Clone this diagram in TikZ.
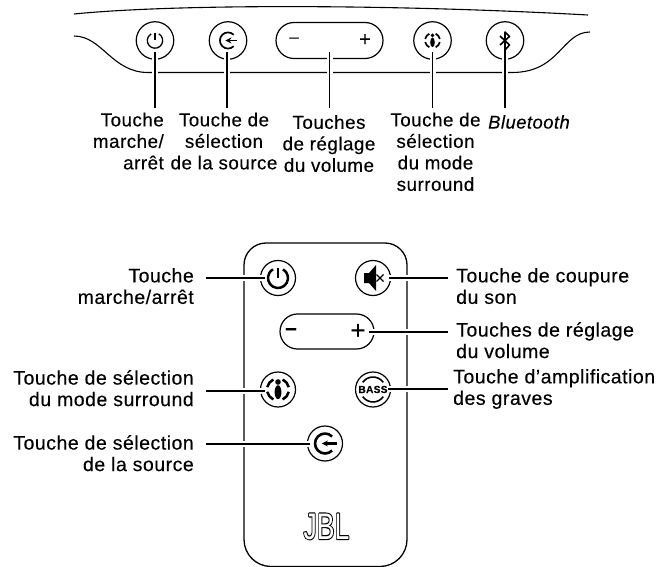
\documentclass[tikz,border=0pt]{standalone}
\usepackage{fontspec}
\setmainfont[FakeBold=0.25,LetterSpace=2.6]{Liberation Sans}
\newfontfamily\plainfont{Liberation Sans}
\usetikzlibrary{arrows.meta,calc}
\tikzset{
  lbl/.style={inner sep=0pt,font=\fontsize{19.5}{21.5}\selectfont},
  lbltop/.style={inner sep=0pt,font=\fontsize{18.8}{21.5}\selectfont},
  btn/.style={circle,draw,fill=white,inner sep=0pt,line width=1.2pt,minimum size=#1},
  pill/.style={draw,fill=white,inner sep=0pt,line width=1.2pt,rounded corners=17.5pt,minimum width=#1,minimum height=35pt},
  leader/.style={line width=#1,preaction={draw=white,line width=6pt}},
  pics/pwricon/.style={code={
    \draw[pic actions] (0,10) -- (0,0);
    \draw[pic actions] (60:10) arc (60:-240:10);
  }},
  pics/srcicon/.style={code={
    \draw[pic actions] (45:9.5) arc (45:315:9.5);
    \draw[pic actions,-{Stealth[length=6pt,width=6pt]}] (11,0) -- (-3,0);
  }},
  pics/surricon/.style={code={
    \fill (0,7.5) circle (2.8);
    \fill (0,-2.7) ellipse (3.4 and 7);
    \draw[pic actions] (115:11) arc (115:168:11);
    \draw[pic actions] (192:11) arc (192:245:11);
    \draw[pic actions] (65:11) arc (65:12:11);
    \draw[pic actions] (-12:11) arc (-12:-65:11);
  }},
}
\begin{document}
\begin{tikzpicture}[x=1pt,y=1pt,line cap=butt,line join=round]
\useasboundingbox (0,0) rectangle (672,-567);
\draw[line width=1.1pt] (74,-14) .. controls (180,-3.5) and (400,-4.5) .. (588,-15);
\draw[line width=1.1pt] (74,-36) .. controls (102,-36) and (112,-72.5) .. (148,-72.5) -- (512,-72.5) .. controls (560,-72.5) and (562,-32) .. (590,-32);
\draw[line width=1.3pt,rounded corners=22pt] (244,-400) -- (244,-243) -- (407,-243) -- (407,-400) [rounded corners=27pt] -- (407,-566.5) -- (244,-566.5) -- cycle;
\node[btn=37.5pt] (pwrT) at (155,-40.5) {};
\node[btn=37.5pt] (srcT) at (228,-40.5) {};
\node[pill=107pt,minimum height=36pt,rounded corners=18pt] (volT) at (329.5,-40.5) {};
\node[btn=37.5pt] (surT) at (432.5,-40.5) {};
\node[btn=37.5pt] (btT) at (505,-40.5) {};
\node[btn=35pt] (pwrR) at (278,-278) {};
\node[btn=35pt] (muteR) at (373,-278) {};
\node[pill=94pt] (volR) at (327,-331.5) {};
\node[btn=35pt] (surR) at (278,-389.5) {};
\node[btn=35pt,font=\fontsize{10.2}{10}\selectfont\bfseries] (bassR) at (373,-389.5) {BASS};
\node[btn=35pt] (srcR) at (325,-443.5) {};
\coordinate (pwrTa) at (155,-52);
\coordinate (pwrTb) at (155,-108);
\coordinate (srcTa) at (227,-52);
\coordinate (srcTb) at (227,-108);
\coordinate (volTa) at (329.5,-52);
\coordinate (volTb) at (329.5,-108);
\coordinate (surTa) at (432.5,-52);
\coordinate (surTb) at (432.5,-108);
\coordinate (btTa) at (505,-50);
\coordinate (btTb) at (505,-108);
\coordinate (pwrRa) at (265,-278);
\coordinate (pwrRb) at (206,-278);
\coordinate (muteRa) at (389,-278);
\coordinate (muteRb) at (448,-278);
\coordinate (volRa) at (369,-332);
\coordinate (volRb) at (448,-332);
\coordinate (surRa) at (265,-390.5);
\coordinate (surRb) at (206,-390.5);
\coordinate (bassRa) at (388,-388.5);
\coordinate (bassRb) at (448,-388.5);
\coordinate (srcRa) at (310,-444);
\coordinate (srcRb) at (206,-444);
\draw[leader=1.6pt] (pwrTa) -- (pwrTb);
\draw[leader=1.6pt] (srcTa) -- (srcTb);
\draw[leader=1.6pt] (volTa) -- (volTb);
\draw[leader=1.6pt] (surTa) -- (surTb);
\draw[leader=1.6pt] (btTa) -- (btTb);
\draw[leader=2pt] (pwrRa) -- (pwrRb);
\draw[leader=2pt] (muteRa) -- (muteRb);
\draw[leader=2pt] (volRa) -- (volRb);
\draw[leader=2pt] (surRa) -- (surRb);
\draw[leader=2pt] (bassRa) -- (bassRb);
\draw[leader=2pt] (srcRa) -- (srcRb);
\pic[scale=0.77,line width=1.3pt] at (pwrT) {pwricon};
\pic[scale=0.85,line width=1.7pt] at (srcT) {srcicon};
\pic[scale=0.68,line width=1.7pt] at (surT) {surricon};
\draw[line width=1.6pt] (500,-36) -- (509.5,-45) -- (505,-50) -- (505,-32) -- (509.5,-36.5) -- (500,-45);
\node[inner sep=0pt,font=\fontsize{17}{17}\selectfont] (minusT) at (294,-40) {–};
\node[inner sep=0pt,font=\fontsize{20}{20}\selectfont] (plusT) at (365,-40) {+};
\pic[scale=1,line width=2.5pt] at (pwrR) {pwricon};
\pic[scale=1.05,line width=2.6pt] at (srcR) {srcicon};
\pic[scale=1,line width=2.5pt] at (surR) {surricon};
\fill ($(muteR)+(-9,5)$) -- ++(5,0) -- ++(7,8) -- ++(0,-26) -- ++(-7,8) -- ++(-5,0) -- cycle;
\draw[line width=1.4pt] ($(muteR)+(3.5,3.5)$) -- ++(7,-7) ($(muteR)+(3.5,-3.5)$) -- ++(7,7);
\draw[line width=1.6pt] ($(bassR)+(35:12.5)$) arc (35:145:12.5);
\draw[line width=1.6pt] ($(bassR)+(215:12.5)$) arc (215:325:12.5);
\node[inner sep=0pt,font=\fontsize{21}{21}\selectfont\bfseries] (minusR) at (291,-331.5) {–};
\node[inner sep=0pt,font=\fontsize{26}{26}\selectfont] (plusR) at (358,-331.5) {+};
\node[lbltop,align=right,anchor=north east] (pwrTl) at (164,-112.5) {Touche\\marche/\\arrêt};
\node[lbltop,align=center,anchor=north] (srcTl) at (224,-112.5) {Touche de\\sélection\\de la source};
\node[lbltop,align=center,anchor=north] (volTl) at (329,-115) {Touches\\de réglage\\du volume};
\node[lbltop,align=center,anchor=north] (surTl) at (435.5,-112.5) {Touche de\\sélection\\du mode\\surround};
\node[lbltop,anchor=north,font=\fontsize{18.4}{21.5}\selectfont\itshape] (btTl) at (529,-115) {Bluetooth};
\node[lbl,align=right,anchor=north east] (pwrRl) at (194,-268) {Touche\\marche/arrêt};
\node[lbl,align=right,anchor=north east] (surRl) at (194,-370) {Touche de sélection\\du mode surround};
\node[lbl,align=right,anchor=north east] (srcRl) at (194,-435) {Touche de sélection\\de la source};
\node[lbl,align=left,anchor=north west] (muteRl) at (456,-268) {Touche de coupure\\du son};
\node[lbl,align=left,anchor=north west] (volRl) at (456,-322) {Touches de réglage\\du volume};
\node[lbl,align=left,anchor=north west] (bassRl) at (453,-369) {Touche d’amplification\\des graves};
\node[inner sep=0pt,xscale=0.72,transform shape,font=\fontsize{37}{37}\plainfont\addfontfeature{FakeBold=6}] (jblA) at (326.5,-526.5) {JBL};
\node[inner sep=0pt,xscale=0.72,transform shape,text=white,font=\fontsize{37}{37}\plainfont] (jblB) at (326.5,-526.5) {JBL};
\end{tikzpicture}
\end{document}
